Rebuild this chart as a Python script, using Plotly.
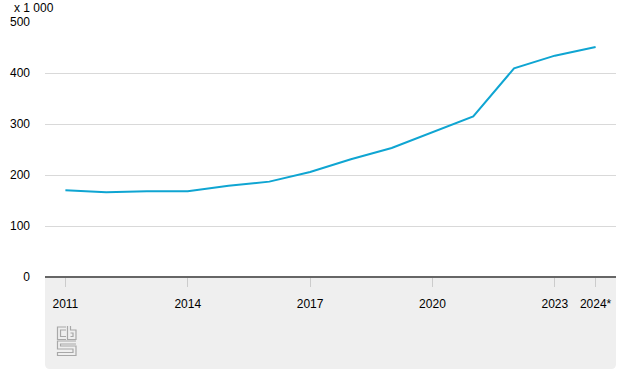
import plotly.graph_objects as go

years = [2011, 2012, 2013, 2014, 2015, 2016, 2017, 2018, 2019, 2020, 2021, 2022, 2023, 2024]
values = [170, 166, 168, 168, 179, 187, 206, 231, 253, 284, 315, 409, 434, 451]
tick_vals = [2011, 2014, 2017, 2020, 2023, 2024]
tick_text = ["2011", "2014", "2017", "2020", "2023", "2024*"]
y_ticks = [0, 100, 200, 300, 400, 500]

W, H = 627, 376
L, R, T, B = 45, 11, 22, 99
PW, PH = W - L - R, H - T - B

def px(x):
    return (x - L) / PW

def py(y):
    return (H - B - y) / PH

def path(points, close=False):
    s = "M " + " L ".join(f"{px(a):.5f},{py(b):.5f}" for a, b in points)
    return s + (" Z" if close else "")

fig = go.Figure()
fig.add_trace(go.Scatter(x=years, y=values, mode="lines",
                         line=dict(color="#0fa5d2", width=2), hoverinfo="skip"))

shapes = []
# grey panel below axis with rounded bottom corners
r = 5
pth = "M " + f"{px(L):.5f},{py(277):.5f} L {px(616):.5f},{py(277):.5f} L {px(616):.5f},{py(369-r):.5f} "
pth += f"Q {px(616):.5f},{py(369):.5f} {px(616-r):.5f},{py(369):.5f} L {px(L+r):.5f},{py(369):.5f} "
pth += f"Q {px(L):.5f},{py(369):.5f} {px(L):.5f},{py(369-r):.5f} Z"
shapes.append(dict(type="path", xref="paper", yref="paper", path=pth,
                   fillcolor="#efefef", line=dict(width=0), layer="below"))
# logo (simplified cbs mark)
lc = dict(color="#a8a8a8", width=1.2)
logo_paths = [
    [(66, 327), (57.5, 327), (57.5, 339.5), (66, 339.5)],
    [(66, 330), (60.5, 330), (60.5, 336.5), (66, 336.5)],
    [(67.5, 326), (67.5, 339.5), (76, 339.5), (76, 330), (70.5, 330), (70.5, 326)],
    [(70.5, 333), (73, 333), (73, 336.5), (70.5, 336.5)],
    [(76, 341), (57.5, 341), (57.5, 349), (73, 349), (73, 352.5), (57.5, 352.5), (57.5, 355.5), (76, 355.5), (76, 346), (60.5, 346), (60.5, 344), (76, 344)],
]
for pts in logo_paths:
    shapes.append(dict(type="path", xref="paper", yref="paper", path=path(pts), line=lc))

font = dict(family="Liberation Sans, Arial, sans-serif", size=12, color="#000000")

fig.update_layout(
    width=W, height=H,
    margin=dict(l=L, r=R, t=T, b=B),
    paper_bgcolor="white", plot_bgcolor="white",
    showlegend=False,
    font=font,
    shapes=shapes,
    xaxis=dict(range=[2010.5, 2024.5], tickmode="array", tickvals=tick_vals, ticktext=tick_text,
               showgrid=False, zeroline=False, showline=False,
               ticks="outside", ticklen=9, tickcolor="#cccccc", tickwidth=1,
               ticklabelstandoff=7, fixedrange=True),
    yaxis=dict(range=[0, 500], tickmode="array", tickvals=y_ticks,
               showgrid=True, gridcolor="#d9d9d9", gridwidth=1,
               zeroline=True, zerolinecolor="#666666", zerolinewidth=2,
               showline=False, ticks="", ticklabelstandoff=14, fixedrange=True),
    annotations=[dict(text="x 1 000", xref="paper", yref="paper", x=px(12), y=py(-1),
                      xanchor="left", yanchor="top", showarrow=False, font=font)],
)

fig.write_html("out.html", config={"displayModeBar": False},
               post_script="document.body.style.margin='0';")
